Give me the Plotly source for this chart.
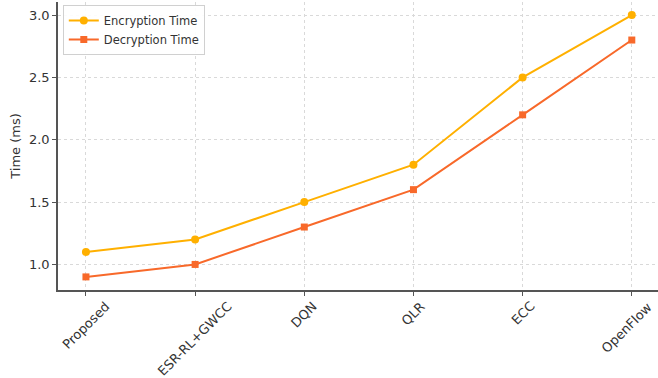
import plotly.graph_objects as go

methods = ["Proposed", "ESR-RL+GWCC", "DQN", "QLR", "ECC", "OpenFlow"]
encryption_ms = [1.1, 1.2, 1.5, 1.8, 2.5, 3.0]
decryption_ms = [0.9, 1.0, 1.3, 1.6, 2.2, 2.8]

ENC_COLOR = "#FFB000"
DEC_COLOR = "#F8692A"
AXIS_COLOR = "#555555"
TEXT_COLOR = "#333333"
FONT = "DejaVu Sans"

x_idx = list(range(len(methods)))

fig = go.Figure()
fig.add_trace(go.Scatter(
    x=x_idx, y=encryption_ms, name="Encryption Time",
    mode="lines+markers",
    line=dict(color=ENC_COLOR, width=2),
    marker=dict(symbol="circle", size=8, color=ENC_COLOR),
))
fig.add_trace(go.Scatter(
    x=x_idx, y=decryption_ms, name="Decryption Time",
    mode="lines+markers",
    line=dict(color=DEC_COLOR, width=2),
    marker=dict(symbol="square", size=7, color=DEC_COLOR),
))

# Category labels rotated 45 degrees and centred under each tick;
# the last one is nudged left so it stays inside the page
for i, name in zip(x_idx, methods):
    fig.add_annotation(
        x=i, xref="x", y=0, yref="paper",
        text=name, showarrow=False, textangle=-45,
        xanchor="center", yanchor="top", yshift=-6,
        xshift=-5 if i == x_idx[-1] else 0,
        font=dict(family=FONT, size=13, color=TEXT_COLOR),
    )

fig.update_layout(
    width=658, height=378,
    margin=dict(l=58, r=0, t=2, b=88),
    paper_bgcolor="white",
    plot_bgcolor="white",
    font=dict(family=FONT, size=13, color=TEXT_COLOR),
    showlegend=True,
    legend=dict(
        x=0.008, y=0.99, xanchor="left", yanchor="top",
        bgcolor="rgba(255,255,255,0.9)",
        bordercolor="#d0d0d0", borderwidth=1,
        font=dict(family=FONT, size=11.5, color=TEXT_COLOR),
        itemwidth=30, tracegroupgap=0,
    ),
)

fig.update_xaxes(
    range=[-0.256, 5.24],
    tickmode="array", tickvals=x_idx, showticklabels=False,
    showline=True, linecolor=AXIS_COLOR, linewidth=1.5,
    ticks="outside", ticklen=4, tickcolor=AXIS_COLOR,
    showgrid=True, gridcolor="#d9d9d9", griddash="dot", gridwidth=1,
    zeroline=False,
)
fig.update_yaxes(
    range=[0.795, 3.105],
    tickmode="array", tickvals=[1.0, 1.5, 2.0, 2.5, 3.0],
    ticktext=["1.0", "1.5", "2.0", "2.5", "3.0"],
    title=dict(text="Time (ms)", standoff=5,
               font=dict(family=FONT, size=13, color=TEXT_COLOR)),
    showline=True, linecolor=AXIS_COLOR, linewidth=1.5,
    ticks="outside", ticklen=4, tickcolor=AXIS_COLOR,
    showgrid=True, gridcolor="#d9d9d9", griddash="dot", gridwidth=1,
    zeroline=False,
    tickfont=dict(family=FONT, size=13, color=TEXT_COLOR),
)

fig.write_html("out.html")
